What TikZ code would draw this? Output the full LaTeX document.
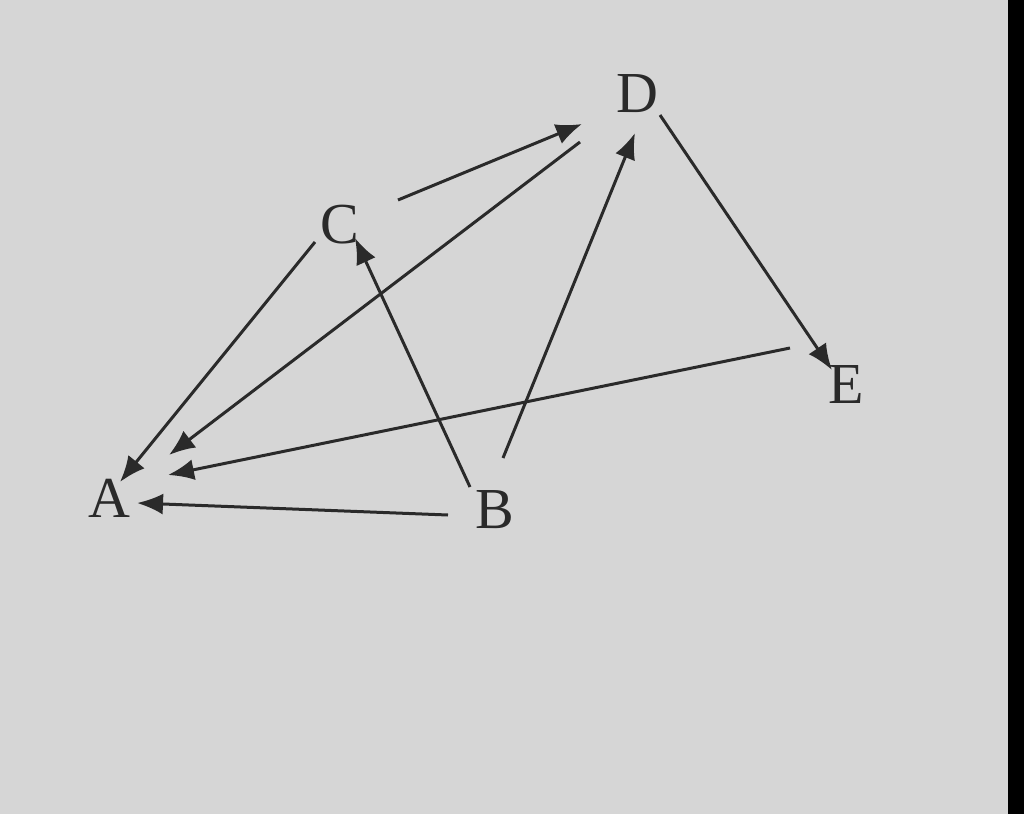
\documentclass[tikz,border=0pt]{standalone}
\usepackage{fontspec}
\setmainfont{Liberation Serif}
\usetikzlibrary{arrows.meta}
\definecolor{paper}{HTML}{D6D6D6}
\definecolor{ink}{HTML}{2A2A2A}
\begin{document}
\begin{tikzpicture}[x=0.5pt,y=-0.5pt,
  vertex/.style={inner sep=0pt,outer sep=0pt,text=ink,font=\fontsize{29}{33}\selectfont},
  edge/.style={draw=ink,line width=1.5pt,-{Latex[length=13pt,width=10.5pt]}}]
\fill[paper] (0,0) rectangle (1024,814);
\fill[black] (1008,0) rectangle (1024,814);
\useasboundingbox (0,0) rectangle (1024,814);
\node[vertex] (A) at (109,498) {A};
\node[vertex] (B) at (495,510) {B};
\node[vertex] (C) at (340,225) {C};
\node[vertex] (D) at (637,94) {D};
\node[vertex] (E) at (846,385) {E};
\draw[edge] ([shift={(58,-25)}]C.center) -- ([shift={(-55,30)}]D.center);
\draw[edge] ([shift={(-57,48)}]D.center) -- ([shift={(60,-43)}]A.center);
\draw[edge] ([shift={(8,-52)}]B.center) -- ([shift={(-2,39)}]D.center);
\draw[edge] ([shift={(23,21)}]D.center) -- ([shift={(-14,-15)}]E.center);
\draw[edge] ([shift={(-25,17)}]C.center) -- ([shift={(11,-16)}]A.center);
\draw[edge] ([shift={(-25,-23)}]B.center) -- ([shift={(15,13)}]C.center);
\draw[edge] ([shift={(-56,-37)}]E.center) -- ([shift={(59,-23)}]A.center);
\draw[edge] ([shift={(-47,5)}]B.center) -- ([shift={(28,5)}]A.center);
\end{tikzpicture}
\end{document}
